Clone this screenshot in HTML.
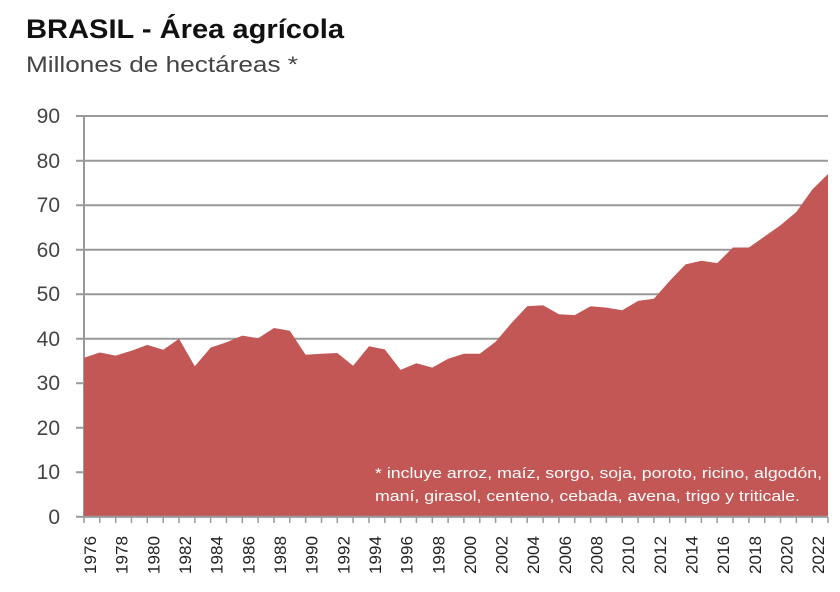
<!DOCTYPE html>
<html><head><meta charset="utf-8"><style>
body{margin:0;background:#fff;width:840px;height:592px;overflow:hidden;font-family:"Liberation Sans",sans-serif;}
</style></head><body>
<svg width="840" height="592" xmlns="http://www.w3.org/2000/svg" style="position:absolute;left:0;top:0">
<text x="26" y="38" font-size="27" font-weight="bold" fill="#111" textLength="318" lengthAdjust="spacingAndGlyphs">BRASIL - Área agrícola</text>
<text x="26" y="72" font-size="22" fill="#444" textLength="272" lengthAdjust="spacingAndGlyphs">Millones de hectáreas *</text>
<g stroke="#999" stroke-width="2">
<line x1="76" y1="116" x2="828" y2="116"/>
<line x1="76" y1="160.7" x2="828" y2="160.7"/>
<line x1="76" y1="205.2" x2="828" y2="205.2"/>
<line x1="76" y1="249.7" x2="828" y2="249.7"/>
<line x1="76" y1="294.2" x2="828" y2="294.2"/>
<line x1="76" y1="338.7" x2="828" y2="338.7"/>
<line x1="76" y1="383.2" x2="828" y2="383.2"/>
<line x1="76" y1="427.7" x2="828" y2="427.7"/>
<line x1="76" y1="472.2" x2="828" y2="472.2"/>
<line x1="76" y1="516.7" x2="828" y2="516.7"/>
<line x1="84" y1="116" x2="84" y2="517"/>
</g>
<polygon fill="#c25755" points="84,516.7 84,357.8 99.8,352.5 115.7,355.6 131.5,350.7 147.3,344.9 163.2,349.8 179,338.7 194.8,366.3 210.6,347.6 226.5,342.3 242.3,335.6 258.1,338.3 274,328 289.8,330.7 305.6,354.7 321.5,353.8 337.3,353 353.1,365.8 369,346.3 384.8,349.4 400.6,369.9 416.4,363.2 432.3,367.6 448.1,358.7 463.9,353.8 479.8,353.8 495.6,341.8 511.4,323.1 527.2,306.2 543.1,305.3 558.9,314.2 574.7,315.1 590.6,306.2 606.4,307.6 622.2,310.2 638.1,300.9 653.9,298.7 669.7,280.9 685.5,264.4 701.4,260.8 717.2,263.1 733,247.5 748.9,247.5 764.7,236.4 780.5,225.2 796.4,211.9 812.2,189.6 828,174 828,516.7"/>
<line x1="84" y1="516.7" x2="828" y2="516.7" stroke="#999" stroke-width="2"/>
<g stroke="#999" stroke-width="1.5">
<path d="M84,517v6M99.8,517v6M115.7,517v6M131.5,517v6M147.3,517v6M163.2,517v6M179,517v6M194.8,517v6M210.6,517v6M226.5,517v6M242.3,517v6M258.1,517v6M274,517v6M289.8,517v6M305.6,517v6M321.5,517v6M337.3,517v6M353.1,517v6M369,517v6M384.8,517v6M400.6,517v6M416.4,517v6M432.3,517v6M448.1,517v6M463.9,517v6M479.8,517v6M495.6,517v6M511.4,517v6M527.2,517v6M543.1,517v6M558.9,517v6M574.7,517v6M590.6,517v6M606.4,517v6M622.2,517v6M638.1,517v6M653.9,517v6M669.7,517v6M685.5,517v6M701.4,517v6M717.2,517v6M733,517v6M748.9,517v6M764.7,517v6M780.5,517v6M796.4,517v6M812.2,517v6M828,517v6"/>
</g>
<g font-size="21" fill="#444" text-anchor="end">
<text x="60" y="123">90</text><text x="60" y="168">80</text><text x="60" y="212">70</text>
<text x="60" y="257">60</text><text x="60" y="301">50</text><text x="60" y="346">40</text>
<text x="60" y="390">30</text><text x="60" y="435">20</text><text x="60" y="479">10</text>
<text x="60" y="524">0</text>
</g>
<g font-size="17" fill="#222">
<text transform="translate(96,574) rotate(-90)" textLength="38" lengthAdjust="spacingAndGlyphs">1976</text>
<text transform="translate(127.7,574) rotate(-90)" textLength="38" lengthAdjust="spacingAndGlyphs">1978</text>
<text transform="translate(159.3,574) rotate(-90)" textLength="38" lengthAdjust="spacingAndGlyphs">1980</text>
<text transform="translate(191,574) rotate(-90)" textLength="38" lengthAdjust="spacingAndGlyphs">1982</text>
<text transform="translate(222.6,574) rotate(-90)" textLength="38" lengthAdjust="spacingAndGlyphs">1984</text>
<text transform="translate(254.3,574) rotate(-90)" textLength="38" lengthAdjust="spacingAndGlyphs">1986</text>
<text transform="translate(286,574) rotate(-90)" textLength="38" lengthAdjust="spacingAndGlyphs">1988</text>
<text transform="translate(317.6,574) rotate(-90)" textLength="38" lengthAdjust="spacingAndGlyphs">1990</text>
<text transform="translate(349.3,574) rotate(-90)" textLength="38" lengthAdjust="spacingAndGlyphs">1992</text>
<text transform="translate(381,574) rotate(-90)" textLength="38" lengthAdjust="spacingAndGlyphs">1994</text>
<text transform="translate(412.6,574) rotate(-90)" textLength="38" lengthAdjust="spacingAndGlyphs">1996</text>
<text transform="translate(444.3,574) rotate(-90)" textLength="38" lengthAdjust="spacingAndGlyphs">1998</text>
<text transform="translate(475.9,574) rotate(-90)" textLength="38" lengthAdjust="spacingAndGlyphs">2000</text>
<text transform="translate(507.6,574) rotate(-90)" textLength="38" lengthAdjust="spacingAndGlyphs">2002</text>
<text transform="translate(539.2,574) rotate(-90)" textLength="38" lengthAdjust="spacingAndGlyphs">2004</text>
<text transform="translate(570.9,574) rotate(-90)" textLength="38" lengthAdjust="spacingAndGlyphs">2006</text>
<text transform="translate(602.6,574) rotate(-90)" textLength="38" lengthAdjust="spacingAndGlyphs">2008</text>
<text transform="translate(634.2,574) rotate(-90)" textLength="38" lengthAdjust="spacingAndGlyphs">2010</text>
<text transform="translate(665.9,574) rotate(-90)" textLength="38" lengthAdjust="spacingAndGlyphs">2012</text>
<text transform="translate(697.5,574) rotate(-90)" textLength="38" lengthAdjust="spacingAndGlyphs">2014</text>
<text transform="translate(729.2,574) rotate(-90)" textLength="38" lengthAdjust="spacingAndGlyphs">2016</text>
<text transform="translate(760.8,574) rotate(-90)" textLength="38" lengthAdjust="spacingAndGlyphs">2018</text>
<text transform="translate(792.5,574) rotate(-90)" textLength="38" lengthAdjust="spacingAndGlyphs">2020</text>
<text transform="translate(824.2,574) rotate(-90)" textLength="38" lengthAdjust="spacingAndGlyphs">2022</text>
</g>
<g font-size="15" fill="#fff">
<text x="375" y="478" textLength="447" lengthAdjust="spacingAndGlyphs">* incluye arroz, maíz, sorgo, soja, poroto, ricino, algodón,</text>
<text x="375" y="501" textLength="425" lengthAdjust="spacingAndGlyphs">maní, girasol, centeno, cebada, avena, trigo y triticale.</text>
</g>
</svg>
</body></html>
